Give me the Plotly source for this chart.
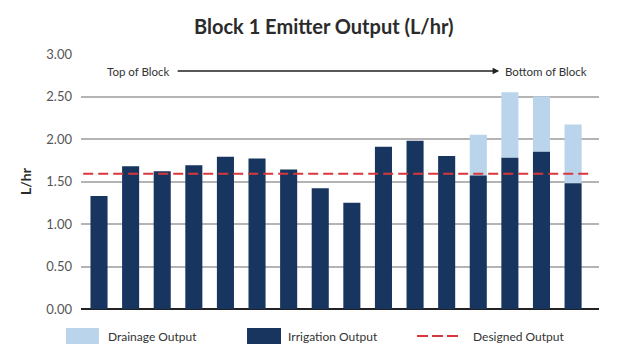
import plotly.graph_objects as go

emitters = list(range(1, 17))
irrigation = [1.33, 1.68, 1.62, 1.69, 1.79, 1.77, 1.64, 1.42, 1.25, 1.91, 1.98, 1.80, 1.57, 1.78, 1.85, 1.48]
drainage = [0, 0, 0, 0, 0, 0, 0, 0, 0, 0, 0, 0, 0.48, 0.77, 0.65, 0.69]
designed = 1.59
y_ticks = [0, 0.5, 1.0, 1.5, 2.0, 2.5, 3.0]
y_tick_labels = ["0.00", "0.50", "1.00", "1.50", "2.00", "2.50", "3.00"]
legend_names = ["Drainage Output", "Irrigation Output", "Designed Output"]

FONT = "Lato"
NAVY = "#17355f"
LIGHT = "#b9d4eb"
RED = "#d8383c"
TXT = "#333333"

fig = go.Figure()
fig.add_trace(go.Bar(x=emitters, y=drainage, base=irrigation, name=legend_names[0],
                     marker=dict(color=LIGHT, line=dict(width=0)), width=0.54))
fig.add_trace(go.Bar(x=emitters, y=irrigation, name=legend_names[1],
                     marker=dict(color=NAVY, line=dict(width=0)), width=0.54))
fig.add_trace(go.Scatter(x=[emitters[0] - 0.5, emitters[-1] + 0.5], y=[designed, designed],
                         mode="lines", name=legend_names[2],
                         line=dict(color=RED, width=2, dash="10px,5px")))

fig.update_layout(
    width=629, height=350,
    margin=dict(l=73, r=38, t=46, b=49, autoexpand=False),
    paper_bgcolor="white", plot_bgcolor="white",
    title=dict(text="<b>Block 1 Emitter Output (L/hr)</b>", x=0.502, xanchor="center",
               y=0.945, yanchor="middle",
               font=dict(family=FONT, size=20, color="#2b2b2b")),
    barmode="overlay",
    showlegend=False,
    font=dict(family=FONT, color="#444444"),
)
fig.update_xaxes(range=[emitters[0] - 0.57, emitters[-1] + 0.82], showticklabels=False,
                 showgrid=False, zeroline=False, showline=False, ticks="", automargin=False)
fig.update_yaxes(range=[0, 3.0], tickvals=y_ticks, ticktext=y_tick_labels,
                 showgrid=True, gridcolor="#b4b4b4", gridwidth=1.5,
                 zeroline=True, zerolinecolor="#222222", zerolinewidth=1.5,
                 tickfont=dict(family=FONT, size=13, color="#555555"),
                 ticklabelstandoff=8, automargin=False,
                 title=dict(text="<b>L/hr</b>", font=dict(family=FONT, size=14, color="#2b2b2b"),
                            standoff=11))

# Top / bottom of block arrow
fig.add_annotation(x=1.19, y=2.8, xref="x", yref="y", text="Top of Block",
                   showarrow=False, xanchor="left", font=dict(family=FONT, size=11.5, color=TXT))
fig.add_annotation(x=16.5, y=2.8, xref="x", yref="y", text="Bottom of Block",
                   showarrow=False, xanchor="right", font=dict(family=FONT, size=11.5, color=TXT))
fig.add_annotation(x=13.66, y=2.8, ax=3.44, ay=2.8, xref="x", yref="y", axref="x", ayref="y",
                   text="", showarrow=True, arrowhead=2, arrowsize=1, arrowwidth=1.3, arrowcolor="#222222")

# Legend (drawn manually to match the reference layout)
ly = -0.106
fig.add_shape(type="rect", xref="paper", yref="paper", x0=-0.029, x1=0.0347, y0=-0.137, y1=-0.0745,
              fillcolor=LIGHT, line=dict(width=0))
fig.add_shape(type="rect", xref="paper", yref="paper", x0=0.3205, x1=0.3861, y0=-0.137, y1=-0.0745,
              fillcolor=NAVY, line=dict(width=0))
fig.add_shape(type="line", xref="paper", yref="paper", x0=0.6486, x1=0.7317, y0=ly, y1=ly,
              line=dict(color=RED, width=2, dash="11px,4px"))
for xp, name in zip([0.048, 0.3956, 0.7528], legend_names):
    fig.add_annotation(x=xp, y=ly, xref="paper", yref="paper", text=name, showarrow=False,
                       xanchor="left", yanchor="middle", font=dict(family=FONT, size=12, color=TXT))

fig.write_html("out.html")
